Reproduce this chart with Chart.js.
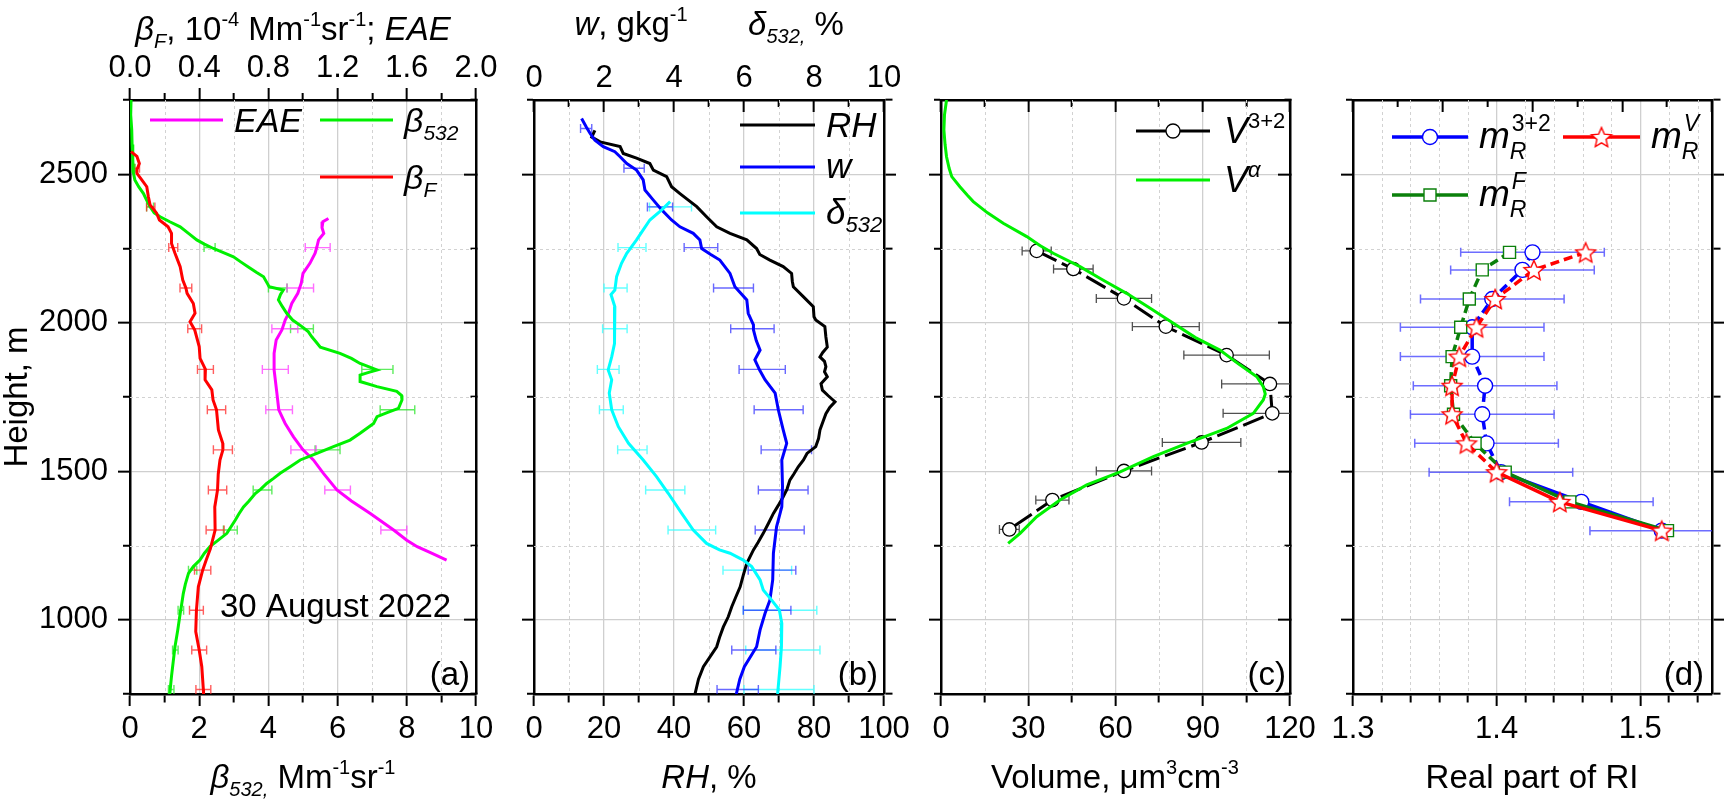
<!DOCTYPE html>
<html>
<head>
<meta charset="utf-8">
<script src="https://cdn.jsdelivr.net/npm/chart.js@4.4.1/dist/chart.umd.min.js"></script>
<style>
  html, body { margin: 0; padding: 0; background: #fff; overflow: hidden; }
  canvas { position: absolute; left: 0; top: 0; }
</style>
</head>
<body>
<canvas id="pa" width="1724" height="803"></canvas>
<canvas id="pb" width="1724" height="803"></canvas>
<canvas id="pc" width="1724" height="803"></canvas>
<canvas id="pd" width="1724" height="803"></canvas>
<script>
// ---- tick values ----
const hMajor = [1000, 1500, 2000, 2500];
const hMinor = [750, 1250, 1750, 2250, 2750];
const aBotMajor = [0, 2, 4, 6, 8, 10], aBotMinor = [1, 3, 5, 7, 9];
const aTopMajor = [0, 0.4, 0.8, 1.2, 1.6, 2.0], aTopMinor = [0.2, 0.6, 1.0, 1.4, 1.8];
const bBotMajor = [0, 20, 40, 60, 80, 100], bBotMinor = [10, 30, 50, 70, 90];
const bTopMajor = [0, 2, 4, 6, 8, 10], bTopMinor = [1, 3, 5, 7, 9];
const cMajor = [0, 30, 60, 90, 120], cMinor = [15, 45, 75, 105];
const dMajor = [1.3, 1.4, 1.5], dMinor = [1.32, 1.34, 1.36, 1.38, 1.42, 1.44, 1.46, 1.48, 1.52, 1.54];
const dTopMajor = [0, 2, 4, 6, 8], dTopMinor = [1, 3, 5, 7];

// ---- panel (a): beta532 (bottom axis), betaF and EAE (top axis) ----
const b532H = [2750, 2700, 2650, 2600, 2550, 2504, 2481, 2458, 2435, 2413, 2391, 2370, 2357, 2340, 2323, 2300, 2279, 2265, 2250, 2236, 2222, 2205, 2188, 2170, 2155, 2130, 2121, 2110, 2095, 2077, 2055, 2032, 2009, 1987, 1970, 1952, 1935, 1918, 1897, 1880, 1863, 1850, 1841, 1833, 1824, 1802, 1785, 1769, 1755, 1740, 1712, 1698, 1684, 1661, 1645, 1628, 1605, 1583, 1560, 1538, 1515, 1493, 1476, 1459, 1440, 1425, 1400, 1380, 1357, 1335, 1313, 1291, 1268, 1246, 1224, 1201, 1179, 1156, 1120, 1088, 1050, 1021, 965, 909, 860, 810, 763, 750];
const b532 = [0.03, 0.02, 0.05, 0.06, 0.08, 0.10, 0.14, 0.25, 0.39, 0.48, 0.58, 0.70, 0.87, 1.15, 1.45, 1.70, 1.93, 2.15, 2.41, 2.70, 2.99, 3.20, 3.42, 3.65, 3.86, 3.98, 4.02, 4.43, 4.35, 4.29, 4.40, 4.53, 4.70, 4.97, 5.15, 5.26, 5.38, 5.50, 6.07, 6.40, 6.65, 6.95, 7.14, 6.90, 6.65, 6.65, 7.14, 7.71, 7.85, 7.86, 7.76, 7.45, 7.14, 7.04, 6.85, 6.65, 6.36, 5.88, 5.40, 4.92, 4.63, 4.34, 4.15, 3.95, 3.78, 3.62, 3.44, 3.28, 3.15, 3.04, 2.92, 2.80, 2.55, 2.31, 2.15, 2.02, 1.83, 1.69, 1.60, 1.54, 1.49, 1.45, 1.38, 1.30, 1.25, 1.20, 1.16, 1.15];
const bFH = [2576, 2560, 2536, 2515, 2503, 2481, 2458, 2425, 2397, 2369, 2346, 2323, 2301, 2267, 2234, 2189, 2144, 2117, 2099, 2065, 2032, 2003, 1976, 1920, 1880, 1843, 1808, 1774, 1740, 1707, 1639, 1594, 1572, 1538, 1490, 1437, 1380, 1302, 1240, 1200, 1167, 1111, 1032, 960, 898, 842, 765, 750];
const bF = [0.006, 0.04, 0.054, 0.04, 0.04, 0.068, 0.097, 0.106, 0.116, 0.154, 0.17, 0.22, 0.24, 0.24, 0.26, 0.29, 0.305, 0.323, 0.33, 0.366, 0.376, 0.347, 0.374, 0.40, 0.405, 0.436, 0.434, 0.473, 0.48, 0.50, 0.511, 0.536, 0.537, 0.52, 0.51, 0.506, 0.49, 0.492, 0.465, 0.44, 0.42, 0.395, 0.384, 0.38, 0.40, 0.415, 0.424, 0.425];
const eaeH = [2351, 2340, 2320, 2301, 2279, 2255, 2234, 2200, 2166, 2133, 2099, 2065, 2030, 2009, 1976, 1942, 1897, 1841, 1763, 1707, 1661, 1616, 1572, 1538, 1493, 1437, 1400, 1358, 1302, 1268, 1246, 1225, 1201];
const eae = [1.147, 1.115, 1.110, 1.120, 1.090, 1.080, 1.070, 1.040, 1.000, 0.990, 0.970, 0.935, 0.915, 0.897, 0.878, 0.845, 0.833, 0.833, 0.849, 0.860, 0.897, 0.945, 1.000, 1.060, 1.118, 1.196, 1.280, 1.389, 1.524, 1.600, 1.660, 1.740, 1.830];
const errHa = [2520, 2390, 2253, 2117, 1980, 1843, 1707, 1572, 1437, 1302, 1167, 1032, 898, 765];
const b532ErrC = [0.10, 0.58, 2.30, 4.27, 4.97, 7.15, 7.73, 5.71, 3.83, 2.90, 1.81, 1.47, 1.31, 1.19];
const b532ErrD = [0.05, 0.10, 0.16, 0.27, 0.33, 0.45, 0.50, 0.36, 0.27, 0.20, 0.12, 0.08, 0.08, 0.08];
const bFErrC = [0.04, 0.12, 0.25, 0.323, 0.374, 0.436, 0.50, 0.537, 0.506, 0.492, 0.42, 0.384, 0.40, 0.424];
const bFErrD = [0.015, 0.024, 0.026, 0.034, 0.04, 0.046, 0.053, 0.055, 0.053, 0.052, 0.047, 0.04, 0.043, 0.043];
const eaeErrH = [2253, 2117, 1980, 1843, 1707, 1572, 1437, 1302];
const eaeErrC = [1.085, 0.984, 0.895, 0.84, 0.862, 1.003, 1.2, 1.525];
const eaeErrD = [0.072, 0.077, 0.075, 0.075, 0.077, 0.073, 0.074, 0.075];

// ---- panel (b): RH (bottom), w and delta532 (top) ----
const rhH = [2648, 2625, 2609, 2593, 2570, 2554, 2536, 2514, 2492, 2458, 2435, 2413, 2391, 2357, 2323, 2301, 2279, 2250, 2230, 2211, 2189, 2166, 2140, 2121, 2087, 2054, 2020, 2009, 1987, 1952, 1918, 1900, 1885, 1870, 1852, 1835, 1818, 1795, 1773, 1755, 1734, 1715, 1694, 1665, 1639, 1610, 1583, 1560, 1538, 1515, 1490, 1470, 1440, 1414, 1385, 1358, 1325, 1291, 1260, 1235, 1190, 1150, 1111, 1075, 1044, 1010, 976, 940, 909, 842, 800, 750];
const rh = [17.4, 16.5, 18.9, 24.6, 25.5, 29.3, 33.1, 34.1, 37.9, 39.3, 41.7, 44.1, 46.5, 49.3, 52.2, 56.0, 60.8, 63.6, 64.5, 67.4, 71.2, 73.6, 73.8, 74.1, 77.0, 79.8, 80.0, 80.5, 83.1, 83.4, 83.8, 82.5, 81.7, 83.0, 83.4, 83.0, 83.8, 82.0, 82.4, 84.0, 86.0, 84.5, 83.4, 82.5, 81.7, 81.3, 80.5, 78.0, 77.0, 75.5, 74.2, 73.1, 72.3, 71.2, 69.8, 68.4, 67.0, 65.5, 64.0, 62.7, 60.8, 59.8, 58.9, 57.6, 56.5, 55.5, 54.1, 53.0, 52.2, 48.4, 47.0, 46.0];
const wH = [2688, 2660, 2638, 2615, 2593, 2576, 2559, 2536, 2514, 2481, 2447, 2413, 2380, 2346, 2323, 2301, 2279, 2250, 2230, 2211, 2166, 2121, 2077, 2032, 1993, 1976, 1940, 1908, 1875, 1840, 1808, 1763, 1707, 1639, 1594, 1538, 1448, 1380, 1313, 1224, 1134, 1066, 1021, 966, 909, 842, 800, 750];
const w = [1.36, 1.49, 1.60, 1.74, 1.98, 2.31, 2.46, 2.65, 2.93, 3.12, 3.17, 3.41, 3.65, 3.93, 4.17, 4.55, 4.74, 4.79, 5.05, 5.31, 5.60, 5.74, 6.08, 6.12, 6.27, 6.27, 6.35, 6.46, 6.31, 6.45, 6.60, 6.89, 6.98, 7.12, 7.22, 7.08, 7.10, 7.08, 6.93, 6.84, 6.82, 6.74, 6.60, 6.46, 6.36, 6.01, 5.88, 5.78];
const depH = [2408, 2380, 2346, 2313, 2279, 2234, 2200, 2155, 2110, 2095, 2054, 1987, 1930, 1885, 1841, 1808, 1763, 1707, 1650, 1594, 1538, 1482, 1425, 1358, 1302, 1257, 1235, 1224, 1201, 1179, 1134, 1100, 1066, 1033, 988, 943, 909, 842, 750];
const dep = [3.89, 3.65, 3.31, 3.12, 2.93, 2.65, 2.50, 2.36, 2.31, 2.20, 2.31, 2.29, 2.31, 2.22, 2.12, 2.22, 2.15, 2.22, 2.41, 2.70, 3.12, 3.50, 3.84, 4.22, 4.55, 4.93, 5.30, 5.60, 5.98, 6.22, 6.46, 6.55, 6.79, 7.01, 7.08, 7.06, 7.08, 7.03, 6.96];
const errHb = [2654, 2520, 2390, 2253, 2117, 1980, 1843, 1707, 1572, 1437, 1302, 1167, 1032, 898, 765];
const wErrC = [1.49, 2.86, 3.60, 4.77, 5.70, 6.24, 6.52, 6.99, 7.21, 7.12, 7.02, 6.80, 6.66, 6.28, 5.82];
const wErrD = [0.16, 0.29, 0.36, 0.48, 0.57, 0.62, 0.66, 0.70, 0.72, 0.71, 0.70, 0.68, 0.68, 0.63, 0.59];
const depErrH = [2390, 2253, 2117, 1980, 1843, 1707, 1572, 1437, 1302, 1167, 1032, 898, 765];
const depErrC = [3.90, 2.80, 2.33, 2.31, 2.12, 2.21, 2.81, 3.75, 4.51, 6.38, 7.03, 7.11, 7.00];
const depErrD = [0.60, 0.40, 0.33, 0.35, 0.31, 0.34, 0.42, 0.56, 0.68, 0.98, 1.05, 1.06, 1.00];

// ---- panel (c): volume ----
const volH = [2242, 2181, 2082, 1987, 1891, 1794, 1695, 1597, 1501, 1403, 1304];
const v32 = [32.9, 45.5, 62.9, 77.3, 98.2, 113.1, 113.9, 89.6, 62.9, 38.3, 23.5];
const v32Err = [5.0, 6.8, 9.5, 11.5, 14.7, 16.6, 16.9, 13.5, 9.5, 5.7, 3.4];
const vAlphaH = [2750, 2700, 2649, 2600, 2559, 2520, 2492, 2458, 2430, 2408, 2370, 2335, 2290, 2260, 2234, 2189, 2145, 2099, 2050, 1998, 1950, 1908, 1860, 1818, 1785, 1760, 1740, 1695, 1644, 1594, 1549, 1498, 1454, 1403, 1347, 1291, 1257];
const vAlpha = [1.9, 1.2, 1.0, 1.4, 1.9, 2.8, 3.7, 6.5, 9.0, 11.1, 16.0, 21.4, 29.5, 34.0, 38.6, 47.8, 55.5, 63.8, 71.8, 79.9, 87.5, 95.9, 102.5, 108.6, 110.8, 111.5, 110.8, 107.4, 98.2, 84.5, 73.0, 61.6, 50.1, 40.9, 32.9, 27.2, 23.1];

// ---- panel (d): real part of RI ----
const riH = [2237, 2178, 2080, 1985, 1886, 1788, 1692, 1594, 1497, 1397, 1300];
const m32 = [1.425, 1.418, 1.397, 1.383, 1.383, 1.392, 1.390, 1.393, 1.403, 1.459, 1.515];
const mV = [1.462, 1.426, 1.399, 1.386, 1.374, 1.369, 1.369, 1.379, 1.400, 1.444, 1.515];
const mF = [1.409, 1.390, 1.381, 1.375, 1.369, 1.368, 1.370, 1.385, 1.406, 1.451, 1.519];
const m32Err = [0.05, 0.05, 0.05, 0.05, 0.05, 0.05, 0.05, 0.05, 0.05, 0.05, 0.05];

// ---- helpers ----
const FONT = "'Liberation Sans', Arial, Helvetica, sans-serif";
const TOP = 100, BOTTOM = 694;

function has(arr, v) { return arr.some(a => Math.abs(a - v) < 1e-6); }
function pts(H, V) { return H.map((h, i) => ({x: V[i], y: h})); }
function inside(arr, min, max) { return arr.filter(v => v > min + 1e-9 && v < max - 1e-9); }

//Builds one axis. Major ticks long (and labelled if asked), minor ticks short, others hidden.
function makeAxis(o) {
  const horiz = o.position === 'top' || o.position === 'bottom';
  const tl = o.inward ? -12 : 12;
  //Minor ticks are shortened with a dash pattern; the pattern start depends on which end the line starts from.
  const fromBorder = o.position === 'bottom' || o.position === 'right';
  const minorDash = fromBorder ? [7, 200] : [0, 5, 7, 200];
  return {
    type: 'linear',
    position: o.position,
    min: o.min, max: o.max,
    afterFit: s => { if (horiz) s.height = o.size; else s.width = o.size; },
    ticks: {
      stepSize: o.step,
      autoSkip: false, maxRotation: 0, minRotation: 0,
      display: !!o.fmt,
      padding: o.pad || 0,
      color: '#000',
      font: {family: FONT, size: 31},
      callback: v => (o.fmt && has(o.major, v)) ? o.fmt(v) : ''
    },
    grid: {
      drawOnChartArea: !!o.grid,
      color: c => (o.grid && c.tick && has(o.major, c.tick.value) && c.tick.value > o.min && c.tick.value < o.max) ? '#cfcfcf' : 'rgba(0,0,0,0)',
      lineWidth: 1.3,
      tickLength: tl,
      tickWidth: 2,
      tickColor: c => (c.tick && (has(o.major, c.tick.value) || has(o.minor, c.tick.value))) ? '#000' : 'rgba(0,0,0,0)',
      tickBorderDash: c => (c.tick && has(o.minor, c.tick.value)) ? minorDash : []
    },
    border: {display: true, color: '#000', width: 2.5}
  };
}

//Text with italic, sub- and superscript runs. parts: [text, flags] (i italic, b sub, p sup, s stacked "sub|sup").
function rich(ctx, parts, x, y, size, align, rot) {
  const sm = Math.round(size * 0.62);
  const font = (s, it) => (it ? 'italic ' : '') + s + 'px ' + FONT;
  const runs = parts.map(([t, fl = '']) => {
    const it = fl.includes('i');
    if (fl.includes('s')) {
      const [lo, hi] = t.split('|');
      ctx.font = font(sm, true);
      const w1 = ctx.measureText(lo).width;
      ctx.font = font(sm, it);
      const w2 = ctx.measureText(hi).width;
      return {stack: [lo, hi], it, w: Math.max(w1, w2) + 2};
    }
    const s = (fl.includes('b') || fl.includes('p')) ? sm : size;
    ctx.font = font(s, it);
    const dy = fl.includes('b') ? size * 0.24 : fl.includes('p') ? -size * 0.42 : 0;
    return {t, it, s, dy, w: ctx.measureText(t).width};
  });
  const total = runs.reduce((a, r) => a + r.w, 0);
  ctx.save();
  ctx.translate(x, y);
  if (rot) ctx.rotate(rot);
  let cx = align === 'center' ? -total / 2 : align === 'right' ? -total : 0;
  ctx.fillStyle = '#000';
  ctx.textAlign = 'left';
  ctx.textBaseline = 'alphabetic';
  runs.forEach(r => {
    if (r.stack) {
      ctx.font = font(sm, true);
      ctx.fillText(r.stack[0], cx, size * 0.3);
      ctx.font = font(sm, r.it);
      ctx.fillText(r.stack[1], cx + 2, -size * 0.45);
    } else {
      ctx.font = font(r.s, r.it);
      ctx.fillText(r.t, cx, r.dy);
    }
    cx += r.w;
  });
  ctx.restore();
}

function starImage(r, color, lw) {
  const c = document.createElement('canvas');
  const s = Math.ceil(2 * r + 2 * lw + 2);
  c.width = c.height = s;
  const g = c.getContext('2d');
  g.translate(s / 2, s / 2 + 1);
  g.beginPath();
  for (let k = 0; k < 10; k++) {
    const rr = k % 2 ? r * 0.46 : r;
    const a = -Math.PI / 2 + k * Math.PI / 5;
    g.lineTo(rr * Math.cos(a), rr * Math.sin(a));
  }
  g.closePath();
  g.fillStyle = '#fff';
  g.fill();
  g.strokeStyle = color;
  g.lineWidth = lw;
  g.stroke();
  return c;
}
const STAR = starImage(10.5, '#ff0000', 1.4);

function legendLine(ctx, x0, x1, y, color, lw, marker) {
  ctx.save();
  ctx.strokeStyle = color;
  ctx.lineWidth = lw;
  ctx.beginPath(); ctx.moveTo(x0, y); ctx.lineTo(x1, y); ctx.stroke();
  if (marker) {
    const xm = (x0 + x1) / 2;
    if (marker.img) {
      ctx.drawImage(marker.img, xm - marker.img.width / 2, y - marker.img.height / 2);
    } else {
      ctx.beginPath();
      if (marker.shape === 'circle') ctx.arc(xm, y, marker.r, 0, Math.PI * 2);
      else ctx.rect(xm - marker.r, y - marker.r, marker.r * 2, marker.r * 2);
      ctx.fillStyle = '#fff'; ctx.fill();
      ctx.strokeStyle = marker.color; ctx.lineWidth = marker.lw; ctx.stroke();
    }
  }
  ctx.restore();
}

//Minor dashed grid, error bars and all the rich texts of one panel.
function makeDeco(d) {
  return {
    id: 'deco',
    beforeDatasetsDraw(chart) {
      const ctx = chart.ctx, a = chart.chartArea, sx = chart.scales.x, sy = chart.scales.y;
      ctx.save();
      ctx.beginPath(); ctx.rect(a.left, a.top, a.right - a.left, a.bottom - a.top); ctx.clip();
      ctx.strokeStyle = '#d2d2d2'; ctx.lineWidth = 1; ctx.setLineDash([3, 3]);
      d.dashX.forEach(v => {
        const p = Math.round(sx.getPixelForValue(v)) + 0.5;
        ctx.beginPath(); ctx.moveTo(p, a.top); ctx.lineTo(p, a.bottom); ctx.stroke();
      });
      d.dashY.forEach(v => {
        const p = Math.round(sy.getPixelForValue(v)) + 0.5;
        ctx.beginPath(); ctx.moveTo(a.left, p); ctx.lineTo(a.right, p); ctx.stroke();
      });
      ctx.setLineDash([]);
      (d.errs || []).forEach(e => {
        const s = chart.scales[e.axis];
        ctx.strokeStyle = e.color;
        ctx.lineWidth = e.lw || 1.4;
        e.h.forEach((h, i) => {
          const y = sy.getPixelForValue(h);
          const x0 = s.getPixelForValue(e.c[i] - e.d[i]), x1 = s.getPixelForValue(e.c[i] + e.d[i]);
          ctx.beginPath();
          ctx.moveTo(x0, y); ctx.lineTo(x1, y);
          ctx.moveTo(x0, y - 4.5); ctx.lineTo(x0, y + 4.5);
          ctx.moveTo(x1, y - 4.5); ctx.lineTo(x1, y + 4.5);
          ctx.stroke();
        });
      });
      ctx.restore();
    },
    afterDraw(chart) { d.text(chart.ctx); }
  };
}

function panel(id, L, R, wl, wr, scales, datasets, deco) {
  return new Chart(document.getElementById(id), {
    type: 'scatter',
    data: {datasets},
    options: {
      animation: false,
      responsive: false,
      events: [],
      layout: {autoPadding: false, padding: {left: L - wl, right: 1724 - R - wr, top: TOP - 60, bottom: 803 - BOTTOM - 60}},
      plugins: {legend: {display: false}, tooltip: {enabled: false}},
      scales
    },
    plugins: [makeDeco(deco)]
  });
}

function lineSet(H, V, color, axis, order, extra) {
  return Object.assign({
    data: pts(H, V), xAxisID: axis, yAxisID: 'y', showLine: true,
    borderColor: color, backgroundColor: color, borderWidth: 3,
    pointRadius: 0, pointHoverRadius: 0, tension: 0, order
  }, extra || {});
}

function yAxes(wl, wr, labels, rightInward) {
  return {
    y: makeAxis({position: 'left', min: 750, max: 2750, step: 250, major: hMajor, minor: hMinor, size: wl, grid: true, pad: 10, fmt: labels ? (v => String(v)) : null}),
    yR: makeAxis({position: 'right', min: 750, max: 2750, step: 250, major: hMajor, minor: hMinor, size: wr, inward: rightInward})
  };
}

// ---- panel (a) ----
panel('pa', 130, 476, 125, 14, Object.assign({
  x: makeAxis({position: 'bottom', min: 0, max: 10, step: 1, major: aBotMajor, minor: aBotMinor, size: 60, grid: true, pad: 5, fmt: v => String(v)}),
  x2: makeAxis({position: 'top', min: 0, max: 2, step: 0.2, major: aTopMajor, minor: aTopMinor, size: 60, pad: 1, fmt: v => v.toFixed(1)})
}, yAxes(125, 14, true, true)), [
  lineSet(bFH, bF, '#ff0000', 'x2', 0),
  lineSet(b532H, b532, '#00f000', 'x', 1),
  lineSet(eaeH, eae, '#ff00ff', 'x2', 2)
], {
  dashX: inside(aBotMinor, 0, 10), dashY: inside(hMinor, 750, 2750),
  errs: [
    {axis: 'x', h: errHa, c: b532ErrC, d: b532ErrD, color: 'rgba(40,230,40,0.75)'},
    {axis: 'x2', h: eaeErrH, c: eaeErrC, d: eaeErrD, color: 'rgba(255,60,255,0.75)'},
    {axis: 'x2', h: errHa, c: bFErrC, d: bFErrD, color: 'rgba(255,40,40,0.75)'}
  ],
  text(ctx) {
    rich(ctx, [['β', 'i'], ['F', 'ib'], [', 10'], ['-4', 'p'], [' Mm'], ['-1', 'p'], ['sr'], ['-1', 'p'], ['; '], ['EAE', 'i']], 293, 40, 33, 'center');
    rich(ctx, [['β', 'i'], ['532,', 'ib'], [' Mm'], ['-1', 'p'], ['sr'], ['-1', 'p']], 303, 788, 33, 'center');
    rich(ctx, [['Height, m']], 27, 397, 33, 'center', -Math.PI / 2);
    legendLine(ctx, 150, 223, 120, '#ff00ff', 3);
    rich(ctx, [['EAE', 'i']], 234, 132, 34, 'left');
    legendLine(ctx, 320, 393, 120, '#00f000', 3);
    rich(ctx, [['β', 'i'], ['532', 'ib']], 404, 132, 34, 'left');
    legendLine(ctx, 320, 393, 177, '#ff0000', 3);
    rich(ctx, [['β', 'i'], ['F', 'ib']], 404, 189, 34, 'left');
    rich(ctx, [['30 August 2022']], 220, 617, 33, 'left');
    rich(ctx, [['(a)']], 470, 685, 33, 'right');
  }
});

// ---- panel (b) ----
panel('pb', 534, 884, 14, 14, Object.assign({
  x: makeAxis({position: 'bottom', min: 0, max: 100, step: 10, major: bBotMajor, minor: bBotMinor, size: 60, grid: true, pad: 5, fmt: v => String(v)}),
  x2: makeAxis({position: 'top', min: 0, max: 10, step: 1, major: bTopMajor, minor: bTopMinor, size: 60, inward: true, pad: 15, fmt: v => String(v)})
}, yAxes(14, 14, false, false)), [
  lineSet(depH, dep, '#00ffff', 'x2', 0),
  lineSet(wH, w, '#0000ff', 'x2', 1),
  lineSet(rhH, rh, '#000000', 'x', 2)
], {
  dashX: inside(bBotMinor, 0, 100), dashY: inside(hMinor, 750, 2750),
  errs: [
    {axis: 'x2', h: depErrH, c: depErrC, d: depErrD, color: 'rgba(60,255,255,0.8)'},
    {axis: 'x2', h: errHb, c: wErrC, d: wErrD, color: 'rgba(40,40,255,0.7)'}
  ],
  text(ctx) {
    rich(ctx, [['w', 'i'], [', gkg'], ['-1', 'p']], 631, 35, 33, 'center');
    rich(ctx, [['δ', 'i'], ['532,', 'ib'], [' %']], 796, 35, 33, 'center');
    rich(ctx, [['RH', 'i'], [', %']], 709, 788, 33, 'center');
    legendLine(ctx, 740, 815, 125, '#000000', 3);
    rich(ctx, [['RH', 'i']], 826, 137, 35, 'left');
    legendLine(ctx, 740, 815, 167, '#0000ff', 3);
    rich(ctx, [['w', 'i']], 826, 178, 35, 'left');
    legendLine(ctx, 740, 815, 213, '#00ffff', 3);
    rich(ctx, [['δ', 'i'], ['532', 'ib']], 826, 224, 35, 'left');
    rich(ctx, [['(b)']], 878, 685, 33, 'right');
  }
});

// ---- panel (c) ----
panel('pc', 941, 1290, 14, 14, Object.assign({
  x: makeAxis({position: 'bottom', min: 0, max: 120, step: 15, major: cMajor, minor: cMinor, size: 60, grid: true, pad: 5, fmt: v => String(v)}),
  x2: makeAxis({position: 'top', min: 0, max: 120, step: 15, major: cMajor, minor: cMinor, size: 60, inward: true})
}, yAxes(14, 14, false, true)), [
  lineSet(vAlphaH, vAlpha, '#00f000', 'x', 0),
  lineSet(volH, v32, '#000000', 'x', 1, {
    borderDash: [22, 6], pointRadius: 6.7, pointStyle: 'circle',
    pointBackgroundColor: '#ffffff', pointBorderColor: '#000000', pointBorderWidth: 1.3
  })
], {
  dashX: inside(cMinor, 0, 120), dashY: inside(hMinor, 750, 2750),
  errs: [{axis: 'x', h: volH, c: v32, d: v32Err, color: '#505050', lw: 1.3}],
  text(ctx) {
    rich(ctx, [['Volume, μm'], ['3', 'p'], ['cm'], ['-3', 'p']], 1115, 788, 33, 'center');
    legendLine(ctx, 1136, 1210, 131, '#000000', 3, {shape: 'circle', r: 7, color: '#000', lw: 1.3});
    rich(ctx, [['V', 'i'], ['3+2', 'p']], 1224, 143, 36, 'left');
    legendLine(ctx, 1136, 1210, 180, '#00f000', 3);
    rich(ctx, [['V', 'i'], ['α', 'ip']], 1224, 192, 36, 'left');
    rich(ctx, [['(c)']], 1286, 685, 33, 'right');
  }
});

// ---- panel (d) ----
const dashTop = c => c.p0.parsed.y > 1500 ? [9, 5] : undefined;
panel('pd', 1353, 1712, 14, 12, Object.assign({
  x: makeAxis({position: 'bottom', min: 1.3, max: 1.55, step: 0.01, major: dMajor, minor: dMinor, size: 60, grid: true, pad: 5, fmt: v => v.toFixed(1)}),
  x2: makeAxis({position: 'top', min: 0, max: 8, step: 1, major: dTopMajor, minor: dTopMinor, size: 60, inward: true})
}, yAxes(14, 12, false, false)), [
  lineSet(riH, mV, '#ff0000', 'x', 0, {
    borderWidth: 3.5, segment: {borderDash: dashTop},
    pointRadius: 10, pointStyle: STAR
  }),
  lineSet(riH, mF, '#0b800b', 'x', 1, {
    borderWidth: 3.5, segment: {borderDash: dashTop},
    pointRadius: 8.5, pointStyle: 'rect',
    pointBackgroundColor: '#ffffff', pointBorderColor: '#0b800b', pointBorderWidth: 1.4
  }),
  lineSet(riH, m32, '#0000ff', 'x', 2, {
    borderWidth: 3.5, segment: {borderDash: dashTop},
    pointRadius: 7.5, pointStyle: 'circle',
    pointBackgroundColor: '#ffffff', pointBorderColor: '#0000ff', pointBorderWidth: 1.4
  })
], {
  dashX: inside(dMinor, 1.3, 1.55), dashY: inside(hMinor, 750, 2750),
  errs: [{axis: 'x', h: riH, c: m32, d: m32Err, color: 'rgba(60,60,255,0.75)', lw: 1.5}],
  text(ctx) {
    rich(ctx, [['Real part of RI']], 1532, 788, 33, 'center');
    legendLine(ctx, 1392, 1468, 137, '#0000ff', 3.5, {shape: 'circle', r: 7.5, color: '#0000ff', lw: 1.4});
    rich(ctx, [['m', 'i'], ['R|3+2', 's']], 1479, 148, 37, 'left');
    legendLine(ctx, 1563, 1640, 137, '#ff0000', 3.5, {img: STAR});
    rich(ctx, [['m', 'i'], ['R|V', 'si']], 1651, 148, 37, 'left');
    legendLine(ctx, 1392, 1468, 195, '#0b800b', 3.5, {shape: 'rect', r: 6, color: '#0b800b', lw: 1.4});
    rich(ctx, [['m', 'i'], ['R|F', 'si']], 1479, 206, 37, 'left');
    rich(ctx, [['(d)']], 1704, 685, 33, 'right');
  }
});
</script>
</body>
</html>
